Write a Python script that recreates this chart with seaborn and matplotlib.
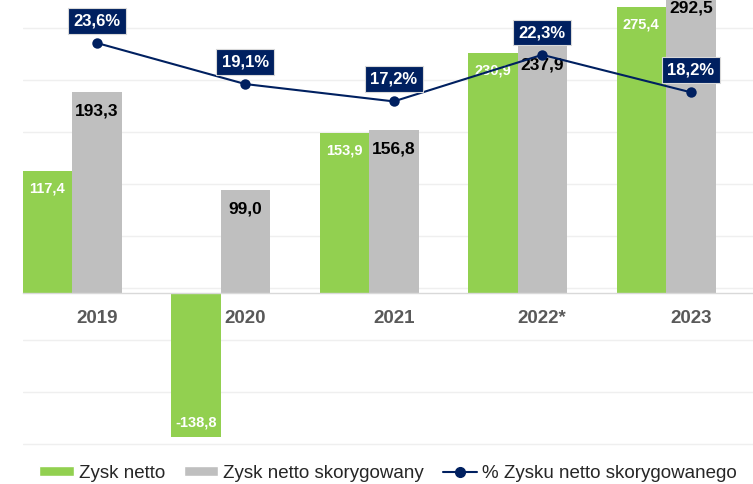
import numpy as np
import pandas as pd
import seaborn as sns
import matplotlib.pyplot as plt
from matplotlib.patches import Patch
from matplotlib.lines import Line2D

years = ['2019', '2020', '2021', '2022*', '2023']
zysk_netto = [117.4, -138.8, 153.9, 230.9, 275.4]
zysk_skorygowany = [193.3, 99.0, 156.8, 237.9, 292.5]
procent_zysku = [23.6, 19.1, 17.2, 22.3, 18.2]

series_names = ['Zysk netto', 'Zysk netto skorygowany']
line_name = '% Zysku netto skorygowanego'

GREEN = '#92D050'
GREY = '#BFBFBF'
NAVY = '#002060'


def fmt(v, suffix=''):
    return f'{v:.1f}'.replace('.', ',') + suffix


def main():
    sns.set_style('white')
    plt.rcParams['font.family'] = ['Liberation Sans', 'DejaVu Sans']

    df = pd.DataFrame({
        'rok': years * 2,
        'seria': [series_names[0]] * 5 + [series_names[1]] * 5,
        'wartosc': zysk_netto + zysk_skorygowany,
    })

    fig = plt.figure(figsize=(7.53, 4.84), dpi=100)
    ax = fig.add_axes([22.5 / 753, 36 / 484, 742.5 / 753, 448 / 484])

    # third (empty) hue slot reproduces the Excel layout with zero gap width
    hue_order = series_names + ['pusty']
    palette = {series_names[0]: GREEN, series_names[1]: GREY, 'pusty': 'white'}
    sns.barplot(data=df, x='rok', y='wartosc', hue='seria', order=years,
                hue_order=hue_order, palette=palette, width=1.0,
                linewidth=0, saturation=1, legend=False, ax=ax)

    ax2 = ax.twinx()
    sns.lineplot(x=np.arange(len(years)), y=procent_zysku, ax=ax2,
                 color=NAVY, linewidth=1.5, marker='o', markersize=7.5,
                 markeredgewidth=0)
    ax2.set_ylim(-20.3 - 4 / 9.15, 28.3)
    ax2.axis('off')

    scale = 1.04  # pixels per unit
    ymin = -145.2
    ax.set_ylim(ymin - 4 / scale, ymin + 444 / scale)
    ax.set_xlim(-0.5, 4.5)
    ax.set_yticks(ymin + 50 * np.arange(9))
    ax.yaxis.grid(True, color='#EFEFEF', linewidth=1)
    ax.set_axisbelow(True)
    ax.tick_params(axis='y', left=False, right=False,
                   labelleft=False, labelright=False)
    for s in ['top', 'right', 'left']:
        ax.spines[s].set_visible(False)
    ax.spines['bottom'].set_position(('data', 0))
    ax.spines['bottom'].set_color('#D9D9D9')
    ax.spines['bottom'].set_linewidth(1)
    ax.set_xlabel('')
    ax.set_ylabel('')

    ax.set_xticks(range(len(years)))
    ax.set_xticklabels(years, fontsize=13.5, fontweight='bold', color='#595959')
    ax.tick_params(axis='x', which='major', length=0, pad=12)
    ax.set_xticks(np.arange(-0.5, len(years), 1), minor=True)
    ax.tick_params(axis='x', which='minor', length=5, color='#D9D9D9', width=1)

    # bar value labels, inside the bar end
    for i in range(len(years)):
        v = zysk_netto[i]
        off = -13 if v >= 0 else 11
        ax.annotate(fmt(v), (i - 1 / 3, v), xytext=(0, off),
                    textcoords='offset points', ha='center', va='center',
                    fontsize=10.5, fontweight='bold', color='white')
        v = zysk_skorygowany[i]
        ax.annotate(fmt(v), (i, v), xytext=(0, -14),
                    textcoords='offset points', ha='center', va='center',
                    fontsize=12.5, fontweight='bold', color='black',
                    annotation_clip=False)

    for i, p in enumerate(procent_zysku):
        ax2.annotate(fmt(p, '%'), (i, p), xytext=(0, 16),
                     textcoords='offset points', ha='center', va='center',
                     fontsize=12, fontweight='bold', color='white',
                     bbox=dict(boxstyle='square,pad=0.32', fc=NAVY,
                               ec='#D9D9D9', lw=0.8))
    ax2.set_xlim(-0.5, 4.5)

    handles = [
        Patch(facecolor=GREEN, label=series_names[0]),
        Patch(facecolor=GREY, label=series_names[1]),
        Line2D([0], [0], color=NAVY, lw=1.5, marker='o', markersize=7,
               label=line_name),
    ]
    fig.legend(handles=handles, loc='center', bbox_to_anchor=(388 / 753, 11 / 484),
               ncol=3, frameon=False, fontsize=13.5, handlelength=1.85,
               handleheight=0.45, handletextpad=0.25, columnspacing=1.0,
               borderaxespad=0, borderpad=0)

    fig.savefig('out.png', dpi=100)


if __name__ == '__main__':
    main()
